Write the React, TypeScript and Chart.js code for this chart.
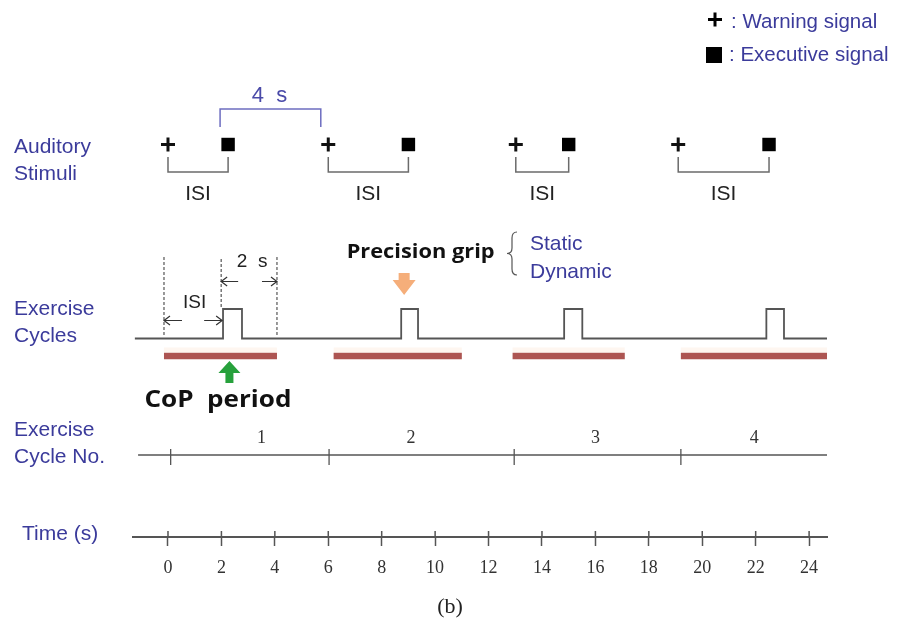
import React, { useEffect, useRef } from 'react';
import { Chart, registerables } from 'chart.js';

Chart.register(...registerables);

// ---------- data (time in seconds) ----------
const timeTicks = [0, 2, 4, 6, 8, 10, 12, 14, 16, 18, 20, 22, 24];
const warningTimes = [0, 6, 13.02, 19.1];
const executiveTimes = [2.25, 9.0, 15.0, 22.5];
const pulseStarts = [2.06, 8.73, 14.83, 22.4];
const pulseEnds = [2.77, 9.36, 15.51, 23.06];
const copStarts = [-0.15, 6.2, 12.9, 19.2];
const copEnds = [4.08, 11.0, 17.1, 24.98];
const cycleBoundaries = [0.1, 6.03, 12.96, 19.2];
const cycleLabels = ['1', '2', '3', '4'];
const cycleLabelTimes = [3.5, 9.1, 16.0, 21.95];
const fourSecSpan = [1.95, 5.72];
const isiSpan = [-0.15, 1.99];
const twoSecSpan = [1.99, 4.08];
const dashTimes = [-0.15, 1.99, 4.08];
const precisionGripTime = 8.84;
const copArrowTime = 2.3;
const axisRange = [-1.31, 24.67];
const waveRange = [-1.24, 24.67];
const cycleAxisRange = [-1.12, 24.67];

// ---------- layout rows (vertical layout units, top = 0) ----------
const LV = {
  stim: 144.5,
  bracketTop: 157,
  bracketBot: 172,
  fourTop: 109,
  fourBot: 127,
  pulseTop: 309,
  base: 338.5,
  copHalo: 350,
  cop: 356,
  cycleAxis: 455,
  cycleTickTop: 449,
  cycleTickBot: 465,
  isiArrow: 320.5,
  twoSecArrow: 281.5,
};
const dashExtents = [
  [257, 337],
  [259, 307],
  [257, 335],
];

const BLUE = '#3b3b9b';
const SANS = "'Liberation Sans', Arial, sans-serif";
const SERIF = "'Liberation Serif', 'Times New Roman', serif";
const BOLD = "'Open Sans', 'Lato', sans-serif";

type P = { x: number; y: number | null };
function segs(list: number[][][]): P[] {
  const out: P[] = [];
  list.forEach((seg, i) => {
    if (i > 0) out.push({ x: seg[0][0], y: null });
    seg.forEach(([x, y]) => out.push({ x, y }));
  });
  return out;
}

function buildData() {
  const wave: P[] = [{ x: waveRange[0], y: LV.base }];
  pulseStarts.forEach((s, i) => {
    const e = pulseEnds[i];
    wave.push({ x: s, y: LV.base }, { x: s, y: LV.pulseTop }, { x: e, y: LV.pulseTop }, { x: e, y: LV.base });
  });
  wave.push({ x: waveRange[1], y: LV.base });

  const cop = segs(copStarts.map((s, i) => [[s, LV.cop], [copEnds[i], LV.cop]]));
  const copHalo = segs(copStarts.map((s, i) => [[s, LV.copHalo], [copEnds[i], LV.copHalo]]));
  const brackets = segs(
    warningTimes.map((w, i) => [
      [w, LV.bracketTop],
      [w, LV.bracketBot],
      [executiveTimes[i], LV.bracketBot],
      [executiveTimes[i], LV.bracketTop],
    ])
  );
  const four = [
    { x: fourSecSpan[0], y: LV.fourBot },
    { x: fourSecSpan[0], y: LV.fourTop },
    { x: fourSecSpan[1], y: LV.fourTop },
    { x: fourSecSpan[1], y: LV.fourBot },
  ];
  const cycleAxis = [
    { x: cycleAxisRange[0], y: LV.cycleAxis },
    { x: cycleAxisRange[1], y: LV.cycleAxis },
  ];
  const cycleTicks = segs(cycleBoundaries.map((t) => [[t, LV.cycleTickTop], [t, LV.cycleTickBot]]));
  const dashes = segs(dashTimes.map((t, i) => [[t, dashExtents[i][0]], [t, dashExtents[i][1]]]));

  const line = (data: P[], color: string, width: number, extra: any = {}) => ({
    type: 'line',
    data,
    borderColor: color,
    borderWidth: width,
    pointRadius: 0,
    tension: 0,
    spanGaps: false,
    fill: false,
    borderCapStyle: 'butt',
    borderJoinStyle: 'miter',
    ...extra,
  });

  return [
    line(copHalo, 'rgba(252,215,185,0.22)', 5),
    line(cop, '#ad5552', 6.5),
    line(wave, '#555555', 1.8),
    line(brackets, '#6b6b6b', 1.5),
    line(four, '#6d6dc0', 1.5),
    line(cycleAxis, '#555555', 1.5),
    line(cycleTicks, '#555555', 1.3),
    line(dashes, '#333333', 1, { borderDash: [3, 2] }),
    {
      type: 'line',
      data: warningTimes.map((t) => ({ x: t, y: LV.stim })),
      showLine: false,
      pointStyle: 'cross',
      pointRadius: 7,
      pointBorderWidth: 3,
      pointBorderColor: '#111',
      pointBackgroundColor: '#111',
    },
    {
      type: 'line',
      data: executiveTimes.map((t) => ({ x: t, y: LV.stim })),
      showLine: false,
      pointStyle: 'rect',
      pointRadius: 9.5,
      pointBorderWidth: 0,
      pointBorderColor: '#000',
      pointBackgroundColor: '#000',
    },
  ];
}

function txt(ctx: CanvasRenderingContext2D, s: string, x: number, y: number, font: string, color: string, align: CanvasTextAlign = 'left') {
  ctx.save();
  ctx.font = font;
  ctx.fillStyle = color;
  ctx.textAlign = align;
  ctx.textBaseline = 'alphabetic';
  ctx.fillText(s, x, y);
  ctx.restore();
}

// centred text stretched horizontally to a given width
function fitTxt(ctx: CanvasRenderingContext2D, s: string, cx: number, y: number, font: string, color: string, width: number) {
  ctx.save();
  ctx.font = font;
  ctx.fillStyle = color;
  ctx.textAlign = 'center';
  ctx.textBaseline = 'alphabetic';
  const w = ctx.measureText(s).width;
  ctx.translate(cx, y);
  ctx.scale(width / w, 1);
  ctx.fillText(s, 0, 0);
  ctx.restore();
}

function arrow(ctx: CanvasRenderingContext2D, x1: number, x2: number, y: number, headAtStart: boolean) {
  ctx.save();
  ctx.strokeStyle = '#333';
  ctx.lineWidth = 1.2;
  ctx.beginPath();
  ctx.moveTo(x1, y);
  ctx.lineTo(x2, y);
  const hx = headAtStart ? x1 : x2;
  const d = headAtStart ? 6 : -6;
  ctx.moveTo(hx + d, y - 4.5);
  ctx.lineTo(hx, y);
  ctx.lineTo(hx + d, y + 4.5);
  ctx.stroke();
  ctx.restore();
}

function poly(ctx: CanvasRenderingContext2D, pts: number[][], color: string) {
  ctx.save();
  ctx.fillStyle = color;
  ctx.beginPath();
  pts.forEach(([x, y], i) => (i ? ctx.lineTo(x, y) : ctx.moveTo(x, y)));
  ctx.closePath();
  ctx.fill();
  ctx.restore();
}

const overlay = {
  id: 'overlay',
  afterDraw(chart: any) {
    const ctx: CanvasRenderingContext2D = chart.ctx;
    const xs = chart.scales.x;
    const ys = chart.scales.y;
    const X = (t: number) => xs.getPixelForValue(t);
    const Y = (v: number) => ys.getPixelForValue(v);

    // upper halves of time-axis ticks
    ctx.save();
    ctx.strokeStyle = '#555';
    ctx.lineWidth = 1.5;
    ctx.beginPath();
    timeTicks.forEach((t) => {
      ctx.moveTo(X(t), xs.top - 6);
      ctx.lineTo(X(t), xs.top);
    });
    ctx.stroke();
    ctx.restore();

    // row labels
    const rowFont = `21px ${SANS}`;
    txt(ctx, 'Auditory', 14, 153, rowFont, BLUE);
    txt(ctx, 'Stimuli', 14, 180, rowFont, BLUE);
    txt(ctx, 'Exercise', 14, 315, rowFont, BLUE);
    txt(ctx, 'Cycles', 14, 342, rowFont, BLUE);
    txt(ctx, 'Exercise', 14, 436, rowFont, BLUE);
    txt(ctx, 'Cycle No.', 14, 463, rowFont, BLUE);
    txt(ctx, 'Time (s)', 22, 540, rowFont, BLUE);

    // legend
    ctx.save();
    ctx.strokeStyle = '#000';
    ctx.lineWidth = 3;
    ctx.beginPath();
    ctx.moveTo(708, 19.5);
    ctx.lineTo(722, 19.5);
    ctx.moveTo(715, 12.5);
    ctx.lineTo(715, 26.5);
    ctx.stroke();
    ctx.fillStyle = '#000';
    ctx.fillRect(706, 47, 16, 16);
    ctx.restore();
    txt(ctx, ': Warning signal', 731, 28, `20.5px ${SANS}`, BLUE);
    txt(ctx, ': Executive signal', 729, 61, `20.5px ${SANS}`, BLUE);

    // 4 s label
    txt(ctx, '4  s', (X(fourSecSpan[0]) + X(fourSecSpan[1])) / 2 - 1, 102, `22px ${SANS}`, '#4a4aa8', 'center');

    // ISI under stimulus brackets
    warningTimes.forEach((w, i) => {
      txt(ctx, 'ISI', (X(w) + X(executiveTimes[i])) / 2, 200, `21px ${SANS}`, '#222', 'center');
    });

    // exercise-cycle annotations
    const ia = X(isiSpan[0]);
    const ib = X(isiSpan[1]);
    arrow(ctx, ia, ia + 18, Y(LV.isiArrow), true);
    arrow(ctx, ib - 17, ib + 1, Y(LV.isiArrow), false);
    txt(ctx, 'ISI', (ia + ib) / 2 + 2, 308, `19px ${SANS}`, '#222', 'center');
    const ta = X(twoSecSpan[0]);
    const tb = X(twoSecSpan[1]);
    arrow(ctx, ta, ta + 17, Y(LV.twoSecArrow), true);
    arrow(ctx, tb - 15, tb, Y(LV.twoSecArrow), false);
    txt(ctx, '2  s', (ta + tb) / 2 + 3, 267, `19px ${SANS}`, '#222', 'center');

    // precision grip
    const gx = X(precisionGripTime);
    fitTxt(ctx, 'Precision grip', gx + 16.5, 258, `bold 20px ${BOLD}`, '#111', 148);
    poly(
      ctx,
      [
        [gx - 5.5, 273],
        [gx + 5.5, 273],
        [gx + 5.5, 280],
        [gx + 11.5, 280],
        [gx, 295],
        [gx - 11.5, 280],
        [gx - 5.5, 280],
      ],
      '#f5ae7a'
    );
    // brace
    ctx.save();
    ctx.strokeStyle = '#555';
    ctx.lineWidth = 1.2;
    ctx.beginPath();
    ctx.moveTo(517, 232);
    ctx.quadraticCurveTo(512, 232, 512, 238);
    ctx.lineTo(512, 248);
    ctx.quadraticCurveTo(512, 253.5, 507, 253.5);
    ctx.quadraticCurveTo(512, 253.5, 512, 259);
    ctx.lineTo(512, 269);
    ctx.quadraticCurveTo(512, 275, 517, 275);
    ctx.stroke();
    ctx.restore();
    txt(ctx, 'Static', 530, 250, `21px ${SANS}`, BLUE);
    txt(ctx, 'Dynamic', 530, 278, `21px ${SANS}`, BLUE);

    // CoP period
    const cx = X(copArrowTime);
    poly(
      ctx,
      [
        [cx, 361],
        [cx + 11, 373],
        [cx + 4, 373],
        [cx + 4, 383],
        [cx - 4, 383],
        [cx - 4, 373],
        [cx - 11, 373],
      ],
      '#27a13c'
    );
    fitTxt(ctx, 'CoP  period', cx - 11.5, 407, `bold 23px ${BOLD}`, '#111', 147);

    // cycle numbers
    cycleLabels.forEach((s, i) => {
      txt(ctx, s, X(cycleLabelTimes[i]), 443, `18px ${SERIF}`, '#333', 'center');
    });

    // caption
    txt(ctx, '(b)', 450, 613, `22px ${SERIF}`, '#222', 'center');
  },
};

export default function App() {
  const ref = useRef<HTMLCanvasElement | null>(null);
  useEffect(() => {
    if (!ref.current) return;
    const chart = new Chart(ref.current, {
      type: 'line',
      data: { datasets: buildData() as any },
      options: {
        responsive: false,
        animation: false,
        events: [],
        layout: { autoPadding: false, padding: { left: 133, right: 77, top: 0, bottom: 0 } },
        plugins: { legend: { display: false }, tooltip: { enabled: false }, title: { display: false } },
        scales: {
          x: {
            type: 'linear',
            position: 'bottom',
            min: axisRange[0],
            max: axisRange[1],
            afterBuildTicks: (s: any) => {
              s.ticks = timeTicks.map((v) => ({ value: v }));
            },
            afterFit: (s: any) => {
              s.height = 85;
            },
            ticks: {
              autoSkip: false,
              maxRotation: 0,
              includeBounds: false,
              padding: 11,
              color: '#333',
              font: { family: SERIF, size: 18 },
            },
            grid: {
              display: true,
              drawOnChartArea: false,
              drawTicks: true,
              tickLength: 9,
              tickColor: '#555',
              tickWidth: 1.5,
              color: '#555',
            },
            border: { display: true, color: '#555', width: 2 },
          },
          y: {
            type: 'linear',
            display: false,
            min: 0,
            max: 537,
            reverse: true,
          },
        },
      } as any,
      plugins: [overlay],
    });
    return () => chart.destroy();
  }, []);
  return (
    <div style={{ position: 'fixed', left: 0, top: 0, width: 904, height: 622, background: '#fff' }}>
      <canvas ref={ref} width={904} height={622} />
    </div>
  );
}
